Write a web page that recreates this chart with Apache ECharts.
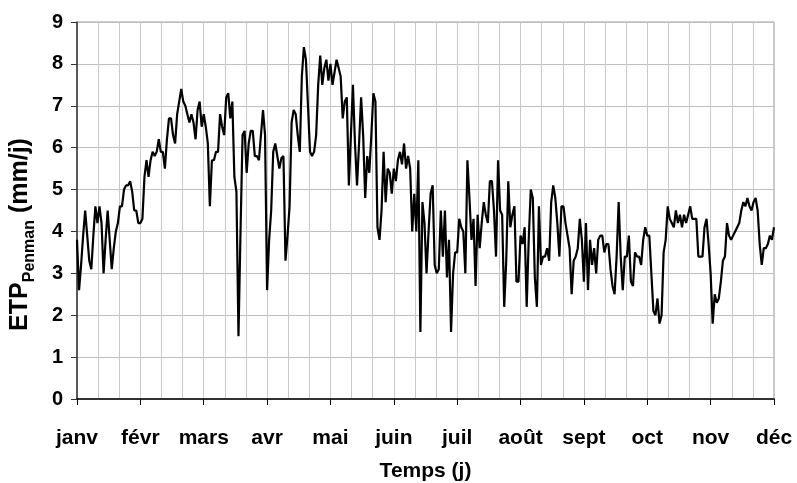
<!DOCTYPE html>
<html>
<head>
<meta charset="utf-8">
<script src="https://cdn.jsdelivr.net/npm/echarts@6/dist/echarts.min.js"></script>
<style>
html,body{margin:0;padding:0;background:#fff;}
#chart{width:797px;height:483px;}
</style>
</head>
<body>
<div id="chart"></div>
<script>
// Month labels (one every 31 days)
const months = ['janv','févr','mars','avr','mai','juin','juil','août','sept','oct','nov','déc'];
// Y tick range
const yMin = 0, yMax = 9, yStep = 1;
// Daily ETP Penman values (mm/j)
const etp = [
3.8,2.6,3.2,3.9,4.5,3.9,3.3,3.1,3.9,4.6,
4.2,4.6,4.2,3.0,3.8,4.5,3.8,3.1,3.6,4.0,
4.2,4.6,4.6,5.0,5.1,5.1,5.2,4.95,4.5,4.5,
4.2,4.2,4.3,5.3,5.7,5.3,5.7,5.9,5.8,5.9,
6.2,5.9,5.9,5.5,6.2,6.7,6.7,6.3,6.1,6.8,
7.1,7.4,7.1,7.0,6.8,6.6,6.8,6.6,6.2,6.9,
7.1,6.5,6.8,6.5,6.1,4.6,5.7,5.7,5.9,5.9,
6.8,6.5,6.3,7.2,7.3,6.7,7.1,5.3,4.95,1.5,
4.0,6.3,6.4,5.4,6.1,6.4,6.4,5.8,5.8,5.7,
6.3,6.9,6.3,2.6,3.8,4.5,5.9,6.1,5.8,5.5,
5.75,5.8,3.3,3.9,4.6,6.6,6.9,6.8,6.3,5.9,
7.7,8.4,8.1,7.0,5.9,5.8,5.9,6.3,7.5,8.2,
7.5,7.9,8.1,7.6,8.0,7.5,7.8,8.1,7.9,7.7,
6.7,7.1,7.2,5.1,6.3,7.5,6.1,5.1,6.1,7.2,
6.3,4.8,5.8,5.4,6.3,7.3,7.1,4.1,3.8,4.5,
5.9,4.7,5.5,5.4,4.9,5.5,5.2,5.7,5.9,5.6,
6.1,5.5,5.8,5.5,4.0,4.9,4.0,5.7,1.6,4.7,
4.2,3.0,4.0,4.9,5.1,3.2,3.0,3.1,4.5,3.4,
4.5,2.9,3.8,1.6,3.0,3.5,3.5,4.3,4.1,4.0,
3.0,5.7,4.8,3.8,4.3,2.7,4.4,3.6,4.2,4.7,
4.4,4.2,5.2,5.2,4.5,3.4,5.7,4.5,4.4,2.2,
3.3,5.2,4.1,4.4,4.6,2.8,2.8,3.9,3.7,4.1,
2.2,3.8,5.0,4.8,2.9,2.2,4.6,3.2,3.4,3.4,
3.6,3.3,4.7,5.1,4.8,4.2,3.4,4.6,4.6,4.2,
3.9,3.6,2.5,3.3,3.4,3.6,4.3,3.8,2.8,4.2,
2.6,3.8,3.2,3.6,3.0,3.8,3.9,3.9,3.5,3.7,
3.7,3.1,2.7,2.5,3.4,4.7,3.4,2.6,3.4,3.4,
3.9,2.8,2.7,3.5,3.4,3.4,3.2,3.8,4.1,3.9,
3.9,3.0,2.1,2.0,2.4,1.8,2.0,3.5,3.8,4.6,
4.3,4.2,4.1,4.5,4.2,4.4,4.1,4.4,4.2,4.4,
4.6,4.3,4.3,4.3,3.4,3.4,3.4,4.1,4.3,3.7,
3.0,1.8,2.5,2.3,2.4,2.8,3.3,3.4,4.2,3.9,
3.8,3.9,4.0,4.1,4.2,4.5,4.7,4.6,4.8,4.6,
4.5,4.7,4.8,4.5,3.7,3.2,3.6,3.6,3.7,3.9,
3.8,4.1
];
const daysPerMonth = 31;
const lastDay = daysPerMonth * (months.length - 1);

const font = '"Liberation Sans", Arial, sans-serif';
const chart = echarts.init(document.getElementById('chart'), null, {renderer: 'canvas'});
chart.setOption({
  animation: false,
  backgroundColor: '#ffffff',
  grid: {left: 77, right: 23, top: 22, bottom: 84, show: true, borderColor: '#9a9a9a', borderWidth: 1,
         containLabel: false, outerBoundsMode: 'none'},
  xAxis: [
    {
      type: 'value', min: 0, max: lastDay, interval: daysPerMonth,
      axisLine: {show: true, onZero: false, lineStyle: {color: '#000', width: 1.5}},
      axisTick: {show: true, length: 6, lineStyle: {color: '#000', width: 1}},
      axisLabel: {
        formatter: v => months[Math.round(v / daysPerMonth)] || '',
        color: '#000', fontFamily: font, fontWeight: 'bold', fontSize: 21, margin: 29
      },
      splitLine: {show: false},
      name: 'Temps (j)', nameLocation: 'middle', nameGap: 62,
      nameTextStyle: {color: '#000', fontFamily: font, fontWeight: 'bold', fontSize: 21}
    },
    {
      type: 'value', min: 0, max: lastDay, interval: daysPerMonth / 3, position: 'bottom',
      axisLine: {show: false}, axisTick: {show: false}, axisLabel: {show: false},
      splitLine: {show: true, lineStyle: {color: '#c8c8c8', width: 1}}
    }
  ],
  yAxis: {
    type: 'value', min: yMin, max: yMax, interval: yStep,
    axisLine: {show: true, lineStyle: {color: '#333', width: 1.5}},
    axisTick: {show: true, length: 6, lineStyle: {color: '#333'}},
    axisLabel: {color: '#000', fontFamily: font, fontWeight: 'bold', fontSize: 20, margin: 14},
    splitLine: {show: true, lineStyle: {color: '#c0c0c0', width: 1}},
    name: '{a|ETP}{b|Penman}{a| (mm/j)}', nameLocation: 'middle', nameGap: 44, nameRotate: 90,
    nameTextStyle: {
      color: '#000', fontFamily: font, fontWeight: 'bold', fontSize: 25,
      padding: [0, 48, 0, 0],
      rich: {
        a: {color: '#000', fontFamily: font, fontWeight: 'bold', fontSize: 25, lineHeight: 28, verticalAlign: 'bottom'},
        b: {color: '#000', fontFamily: font, fontWeight: 'bold', fontSize: 16, lineHeight: 28, verticalAlign: 'bottom', padding: [0, 0, -5, 0]}
      }
    }
  },
  series: [{
    type: 'line', xAxisIndex: 0,
    data: etp.map((v, i) => [i, v]),
    showSymbol: false, symbol: 'none',
    lineStyle: {color: '#000', width: 2.2},
    itemStyle: {color: '#000'}
  }]
});
</script>
</body>
</html>
